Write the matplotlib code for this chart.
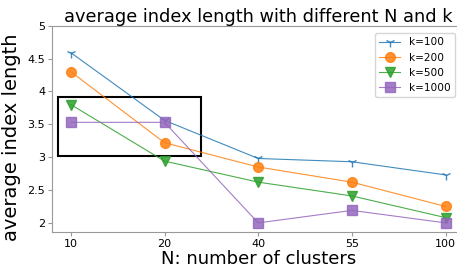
import matplotlib
matplotlib.use('Agg')
import matplotlib.pyplot as plt
from matplotlib.patches import Rectangle

# number of clusters (categorical x axis)
n_clusters = ['10', '20', '40', '55', '100']

# average index length per k
len_k100 = [4.59, 3.56, 2.98, 2.93, 2.73]
len_k200 = [4.30, 3.22, 2.85, 2.62, 2.25]
len_k500 = [3.80, 2.94, 2.62, 2.41, 2.08]
len_k1000 = [3.53, 3.53, 2.00, 2.19, 2.00]

series = [(len_k100, 'k=100', '1', '#1f77b4'),
          (len_k200, 'k=200', 'o', '#ff7f0e'),
          (len_k500, 'k=500', 'v', '#2ca02c'),
          (len_k1000, 'k=1000', 's', '#9467bd')]

fig = plt.figure(figsize=(4.57, 2.68), dpi=100)
ax = fig.add_axes([0.114, 0.134, 0.902, 0.770])

x = range(len(n_clusters))
for vals, label, marker, color in series:
    ax.plot(x, vals, marker=marker, color=color, label=label,
            linewidth=0.8, markersize=7, alpha=0.85)

# highlight box around the first two cluster settings
ax.add_patch(Rectangle((-0.14, 3.02), 1.53, 0.9, fill=False,
                       edgecolor='black', linewidth=1.5))

ax.set_xticks(list(x))
ax.set_xticklabels(n_clusters)
ax.set_xlim(-0.2, 4.2)
ax.set_ylim(1.86, 5)
ax.set_yticks([2, 2.5, 3, 3.5, 4, 4.5, 5])
ax.set_yticklabels(['2', '2.5', '3', '3.5', '4', '4.5', '5'])
ax.tick_params(labelsize=8, length=3, pad=2, color='#999999')
for sp in ax.spines.values():
    sp.set_color('#999999')

ax.set_title('average index length with different N and k', fontsize=12.8, pad=2)
ax.set_xlabel('N: number of clusters', fontsize=13, labelpad=1)
ax.set_ylabel('average index length', fontsize=14)
ax.yaxis.set_label_coords(-0.075, 0.46)
ax.legend(loc='upper right', fontsize=7.6, bbox_to_anchor=(0.99, 0.99))

fig.savefig('out.png', dpi=100)
